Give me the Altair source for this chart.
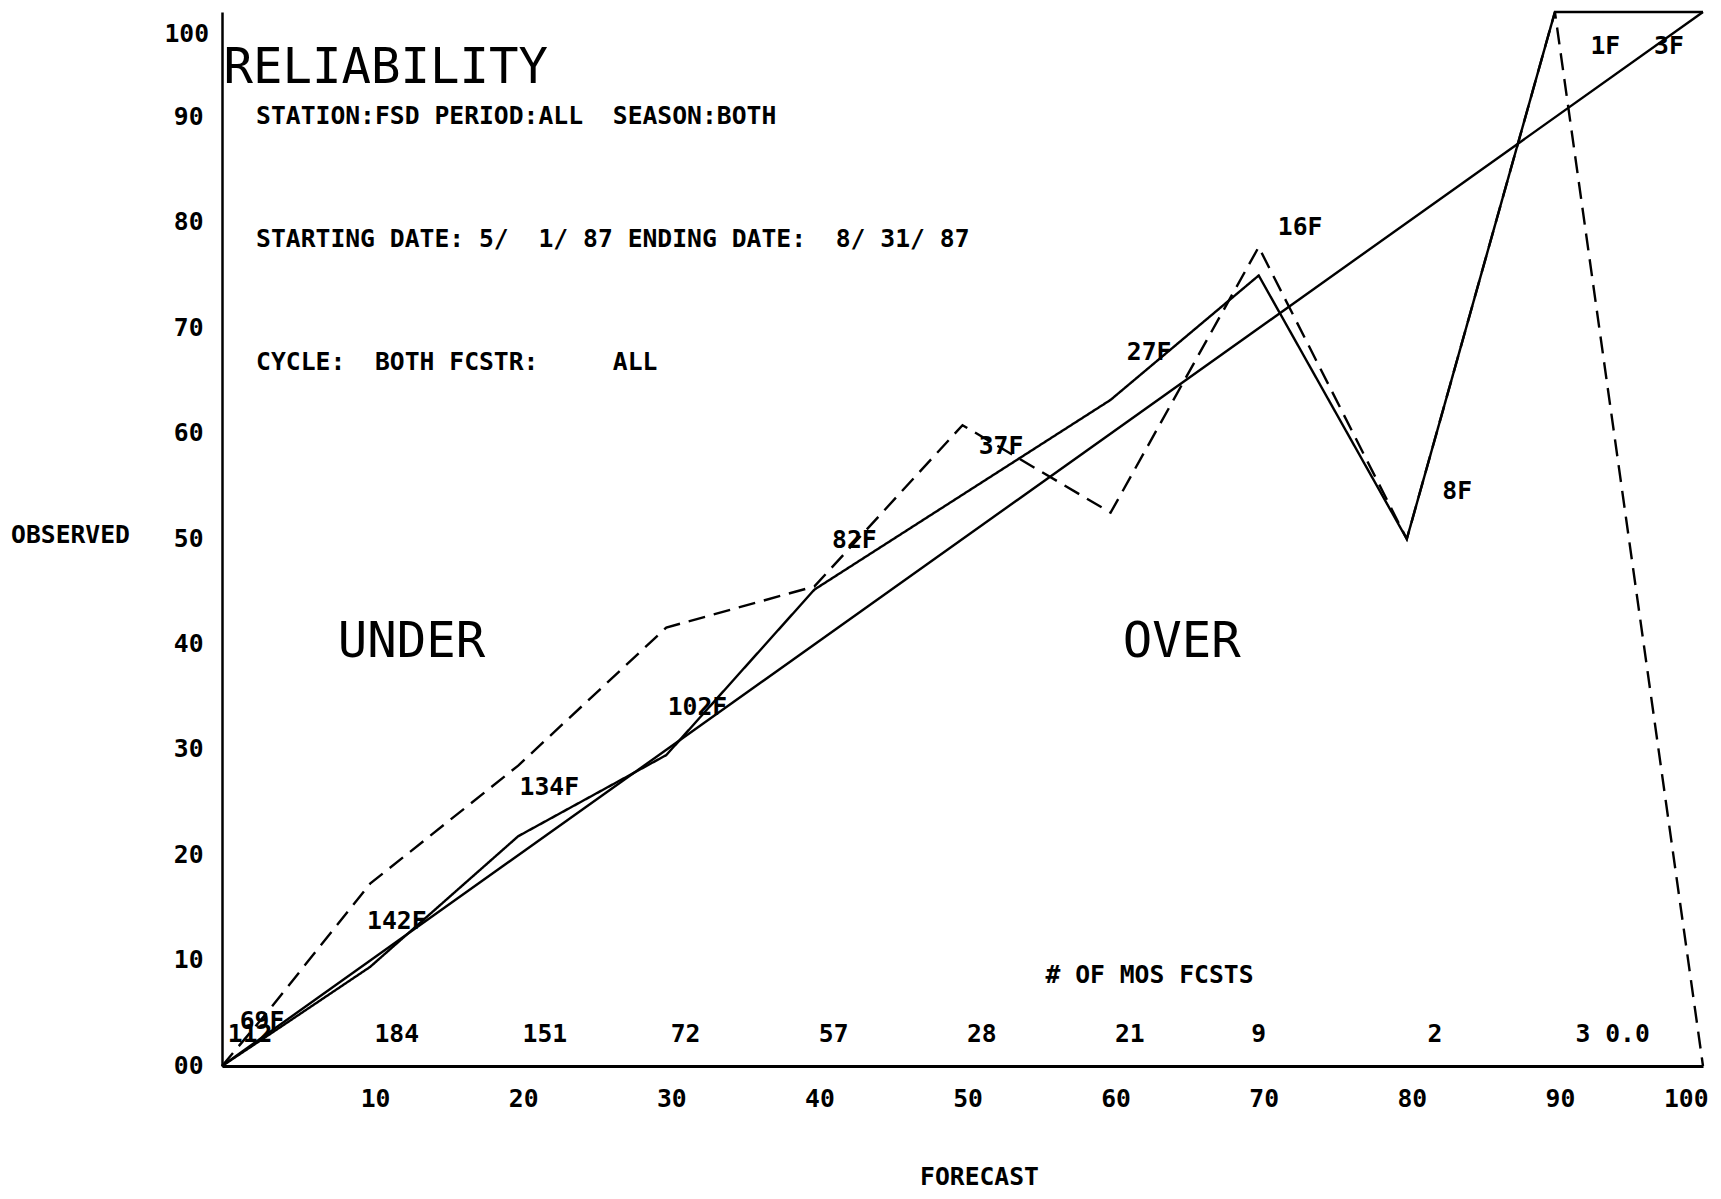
import altair as alt
import pandas as pd

# ---- data ----
forecast_bins = [0, 3, 10, 20, 30, 40, 50, 60, 70, 80, 90, 100]
mos_observed = [0, 5.0, 17.3, 28.5, 41.6, 45.5, 60.8, 52.5, 77.7, 50.0, 100.0, 0.0]      # dashed
local_observed = [0, 2.8, 9.4, 21.8, 29.5, 45.2, 54.2, 63.2, 75.0, 50.0, 100.0, 100.0]  # solid
perfect_x = [0, 100]
perfect_y = [0, 100]

mos_counts = ["112", "184", "151", "72", "57", "28", "21", "9", "2", "3", "0.0"]
mos_count_x = [1.9, 11.8, 21.8, 31.3, 41.3, 51.3, 61.3, 70.0, 81.9, 91.9, 94.9]
mos_count_y = [2.9] * 11

local_counts = ["69F", "142F", "134F", "102F", "82F", "37F", "27F", "16F", "8F", "1F", "3F"]
local_label_x = [2.7, 11.8, 22.1, 32.1, 42.7, 52.6, 62.6, 72.8, 83.4, 93.4, 97.7]
local_label_y = [4.2, 13.7, 26.4, 34.0, 49.8, 58.7, 67.6, 79.5, 54.5, 96.7, 96.7]

header_lines = [
    "STATION:FSD PERIOD:ALL  SEASON:BOTH",
    "STARTING DATE: 5/  1/ 87 ENDING DATE:  8/ 31/ 87",
    "CYCLE:  BOTH FCSTR:     ALL",
]
header_x = [2.3, 2.3, 2.3]
header_y = [90.0, 78.4, 66.7]

big_text = ["RELIABILITY", "UNDER", "OVER"]
big_x = [0.1, 12.8, 64.8]
big_y = [94.7, 40.2, 40.2]
big_align = ["left", "center", "center"]

axis_ticks = [0, 10, 20, 30, 40, 50, 60, 70, 80, 90, 100]

FONT = "DejaVu Sans Mono"
SMALL = 24.7
BIG = 49

def nb(s):
    return s.replace(" ", "\u00a0")

curves = pd.DataFrame({
    "forecast": forecast_bins * 2,
    "observed": mos_observed + local_observed,
    "series": ["MOS"] * len(forecast_bins) + ["LOCAL"] * len(forecast_bins),
})
perfect = pd.DataFrame({"forecast": perfect_x, "observed": perfect_y})
counts_df = pd.DataFrame({"x": mos_count_x, "y": mos_count_y, "t": mos_counts})
flabels_df = pd.DataFrame({"x": local_label_x, "y": local_label_y, "t": local_counts})
header_df = pd.DataFrame({"x": header_x, "y": header_y, "t": [nb(s) for s in header_lines]})
big_df = pd.DataFrame({"x": big_x, "y": big_y, "t": big_text, "a": big_align})

xscale = alt.Scale(domain=[0, 100], nice=False, zero=False)
yscale = alt.Scale(domain=[0, 100], nice=False, zero=False)

x_axis = alt.Axis(
    values=axis_ticks,
    labelExpr="datum.value == 0 ? '' : datum.label",
    ticks=False, tickSize=0, grid=False,
    domainColor="black", domainWidth=3,
    labelFont=FONT, labelFontWeight="bold", labelFontSize=SMALL, labelColor="black",
    labelPadding=33, labelBaseline="middle", labelOffset=5, labelFlush=True,
    labelOverlap=False,
    title="FORECAST", titleFont=FONT, titleFontWeight="bold", titleFontSize=SMALL,
    titleColor="black", titleX=757, titleY=111, titleAlign="center",
    titleBaseline="middle",
)
y_axis = alt.Axis(
    values=axis_ticks,
    labelExpr="datum.value == 0 ? '00' : (datum.value == 100 ? '' : datum.label)",
    ticks=False, tickSize=0, grid=False,
    domainColor="black", domainWidth=2.5,
    labelFont=FONT, labelFontWeight="bold", labelFontSize=SMALL, labelColor="black",
    labelPadding=19, labelBaseline="middle", labelOverlap=False,
    title="OBSERVED", titleFont=FONT, titleFontWeight="bold", titleFontSize=SMALL,
    titleColor="black", titleAngle=0, titleX=-152, titleY=523,
    titleAlign="center", titleBaseline="middle",
)

diag = alt.Chart(perfect).mark_line(color="black", strokeWidth=2.4).encode(
    x=alt.X("forecast:Q", scale=xscale, axis=x_axis),
    y=alt.Y("observed:Q", scale=yscale, axis=y_axis),
)

lines = alt.Chart(curves).mark_line(color="black", strokeWidth=2.4).encode(
    x=alt.X("forecast:Q", scale=xscale),
    y=alt.Y("observed:Q", scale=yscale),
    detail="series:N",
    strokeDash=alt.StrokeDash(
        "series:N",
        scale=alt.Scale(domain=["MOS", "LOCAL"], range=[[17, 9], [1, 0]]),
        legend=None,
    ),
)

def text_layer(df, size=SMALL, weight="bold", align="center"):
    return alt.Chart(df).mark_text(
        font=FONT, fontSize=size, fontWeight=weight, color="black",
        align=align, baseline="middle",
    ).encode(x=alt.X("x:Q", scale=xscale), y=alt.Y("y:Q", scale=yscale), text="t:N")

counts = text_layer(counts_df)
flabels = text_layer(flabels_df)
header = text_layer(header_df, align="left")
big_left = text_layer(big_df[big_df["a"] == "left"], size=BIG, weight="normal", align="left")
big_center = text_layer(big_df[big_df["a"] == "center"], size=BIG, weight="normal", align="center")
mos_title = text_layer(
    pd.DataFrame({"x": [55.6], "y": [8.5], "t": [nb("# OF MOS FCSTS")]}), align="left"
)

top_label = alt.Chart(pd.DataFrame({"y": [97.8], "t": ["100"]})).mark_text(
    font=FONT, fontSize=SMALL, fontWeight="bold", color="black",
    align="right", baseline="middle",
).encode(x=alt.value(-13), y=alt.Y("y:Q", scale=yscale), text="t:N")

chart = alt.layer(
    diag, lines, counts, flabels, header, big_left, big_center, mos_title, top_label
).properties(
    width=1481, height=1054,
    autosize=alt.AutoSizeParams(type="none"),
    padding={"left": 214, "top": 4, "right": 10, "bottom": 125},
    background="white",
).configure_view(stroke=None)

chart.save("out.html", embed_options={"renderer": "svg", "actions": False})
